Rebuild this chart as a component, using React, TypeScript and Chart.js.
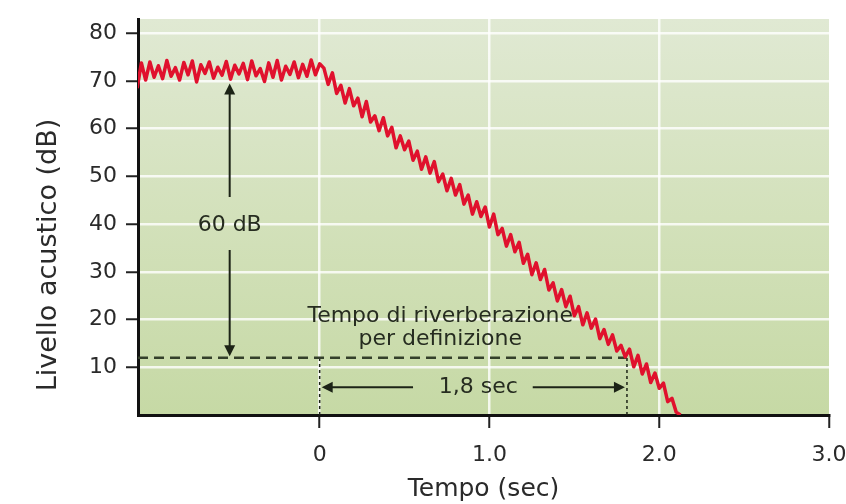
import React, { useEffect, useRef } from "react";
import { Chart, registerables } from "chart.js";

Chart.register(...registerables);

// ---- data ----
const times = [
  -1.075, -1.05, -1.025, -1.0, -0.975, -0.95, -0.925, -0.9, -0.875, -0.85,
  -0.825, -0.8, -0.775, -0.75, -0.725, -0.7, -0.675, -0.65, -0.625, -0.6,
  -0.575, -0.55, -0.525, -0.5, -0.475, -0.45, -0.425, -0.4, -0.375, -0.35,
  -0.325, -0.3, -0.275, -0.25, -0.225, -0.2, -0.175, -0.15, -0.125, -0.1,
  -0.075, -0.05, -0.025, 0.0,
  0.025, 0.05, 0.075, 0.1, 0.125, 0.15, 0.175, 0.2, 0.225, 0.25,
  0.275, 0.3, 0.325, 0.35, 0.375, 0.4, 0.425, 0.45, 0.475, 0.5,
  0.525, 0.55, 0.575, 0.6, 0.625, 0.65, 0.675, 0.7, 0.725, 0.75,
  0.775, 0.8, 0.825, 0.85, 0.875, 0.9, 0.925, 0.95, 0.975, 1.0,
  1.025, 1.05, 1.075, 1.1, 1.125, 1.15, 1.175, 1.2, 1.225, 1.25,
  1.275, 1.3, 1.325, 1.35, 1.375, 1.4, 1.425, 1.45, 1.475, 1.5,
  1.525, 1.55, 1.575, 1.6, 1.625, 1.65, 1.675, 1.7, 1.725, 1.75,
  1.775, 1.8, 1.825, 1.85, 1.875, 1.9, 1.925, 1.95, 1.975, 2.0,
  2.025, 2.05, 2.075, 2.1, 2.125,
];

const levels = [
  68.5, 73.8, 70.2, 74.0, 70.8, 73.2, 70.5, 74.3, 71.0, 72.8,
  70.2, 73.9, 71.3, 74.2, 69.8, 73.4, 71.6, 74.0, 70.6, 72.9,
  71.2, 74.1, 70.4, 73.3, 71.5, 73.7, 70.3, 74.2, 71.1, 72.6,
  69.9, 73.8, 70.8, 74.3, 70.2, 73.1, 71.4, 74.0, 70.7, 73.5,
  71.0, 74.4, 71.3, 73.6,
  72.7, 69.3, 71.7, 67.4, 69.1, 65.4, 68.4, 64.8, 66.4, 62.5,
  65.7, 61.4, 62.7, 59.6, 62.3, 58.5, 60.3, 56.0, 58.5, 55.6,
  57.4, 53.4, 55.3, 51.5, 54.1, 50.7, 53.1, 48.9, 50.5, 47.0,
  49.6, 46.1, 48.3, 44.2, 46.1, 42.1, 44.7, 41.6, 43.6, 39.4,
  42.1, 37.8, 39.1, 35.4, 37.8, 34.2, 36.2, 31.8, 33.7, 29.4,
  31.9, 28.4, 30.5, 26.2, 27.7, 23.9, 26.3, 22.7, 24.9, 20.8,
  22.7, 18.9, 21.4, 18.2, 20.1, 16.0, 17.9, 14.8, 16.8, 13.4,
  14.6, 12.2, 13.8, 10.1, 12.5, 8.6, 10.7, 6.8, 8.8, 5.6,
  6.7, 2.8, 3.5, 0.6, 0.0,
];

const yTicks = [10, 20, 30, 40, 50, 60, 70, 80];
const xTicks = [0, 1, 2, 3];
const xTickLabels = ["0", "1.0", "2.0", "3.0"];

const X_MIN = -1.07;
const X_MAX = 3.0;
const Y_MIN = 0;
const Y_MAX = 83;

const yTitle = "Livello acustico (dB)";
const xTitle = "Tempo (sec)";

// annotations (data units)
const thresholdLevel = 12;
const rtStartTime = 0;
const rtEndTime = 1.81;
const dropArrowTime = -0.53;
const dropTopLevel = 69.5;
const dropGapTop = 45.7;
const dropGapBottom = 34.6;
const dropBottomLevel = 12.3;
const dropLabel = "60 dB";
const dropLabelLevel = 39.8;
const rtLabelLines = ["Tempo di riverberazione", "per definizione"];
const rtLabelTime = 0.71;
const rtLabelLevels = [20.6, 15.8];
const spanLevel = 5.8;
const spanLabel = "1,8 sec";
const spanLabelTime = 0.935;
const spanLeftShaftEnd = 0.55;
const spanRightShaftStart = 1.255;

const FONT = "'DejaVu Sans', 'Liberation Sans', Arial, sans-serif";
const INK = "#1c2316";
const LABEL = "#2a2a2a";

export default function App() {
  const ref = useRef<HTMLCanvasElement | null>(null);

  useEffect(() => {
    const canvas = ref.current;
    if (!canvas) return;

    const bgPlugin = {
      id: "bgPlugin",
      beforeDraw(chart: any) {
        const { ctx, chartArea } = chart;
        ctx.save();
        ctx.fillStyle = "#ffffff";
        ctx.fillRect(0, 0, chart.width, chart.height);
        const g = ctx.createLinearGradient(0, chartArea.top, 0, chartArea.bottom);
        g.addColorStop(0, "#e0e9d3");
        g.addColorStop(0.5, "#d3e1bb");
        g.addColorStop(1, "#c6d9a5");
        ctx.fillStyle = g;
        ctx.fillRect(chartArea.left, chartArea.top, chartArea.right - chartArea.left, chartArea.bottom - chartArea.top);
        // y-axis title
        ctx.translate(49, 255);
        ctx.rotate(-Math.PI / 2);
        ctx.fillStyle = LABEL;
        ctx.font = `27px ${FONT}`;
        ctx.textAlign = "center";
        ctx.textBaseline = "middle";
        ctx.fillText(yTitle, 0, 0);
        ctx.restore();
      },
    };

    const annotPlugin = {
      id: "annotPlugin",
      beforeDatasetsDraw(chart: any) {
        const { ctx } = chart;
        const xs = chart.scales.x;
        const ys = chart.scales.y;
        ctx.save();
        ctx.fillStyle = "#262c20";
        ctx.font = `22px ${FONT}`;
        ctx.textAlign = "center";
        ctx.textBaseline = "middle";
        ctx.fillText(dropLabel, xs.getPixelForValue(dropArrowTime), ys.getPixelForValue(dropLabelLevel));
        rtLabelLines.forEach((line, i) => {
          ctx.fillText(line, xs.getPixelForValue(rtLabelTime), ys.getPixelForValue(rtLabelLevels[i]));
        });
        ctx.fillText(spanLabel, xs.getPixelForValue(spanLabelTime), ys.getPixelForValue(spanLevel));
        ctx.restore();
      },
      afterDatasetsDraw(chart: any) {
        const { ctx } = chart;
        const xs = chart.scales.x;
        const ys = chart.scales.y;
        const head = (x: number, y: number, dx: number, dy: number) => {
          const L = 11;
          const W = 5.5;
          const px = -dy;
          const py = dx;
          ctx.beginPath();
          ctx.moveTo(x, y);
          ctx.lineTo(x - dx * L + px * W, y - dy * L + py * W);
          ctx.lineTo(x - dx * L - px * W, y - dy * L - py * W);
          ctx.closePath();
          ctx.fill();
        };
        ctx.save();
        ctx.fillStyle = INK;
        const ax = xs.getPixelForValue(dropArrowTime);
        head(ax, ys.getPixelForValue(dropTopLevel), 0, -1);
        head(ax, ys.getPixelForValue(dropBottomLevel), 0, 1);
        const sy = ys.getPixelForValue(spanLevel);
        head(xs.getPixelForValue(rtStartTime) + 2, sy, -1, 0);
        head(xs.getPixelForValue(rtEndTime) - 2, sy, 1, 0);
        ctx.restore();
      },
    };

    const seg = (pts: { x: number; y: number }[], opts: any) => ({
      type: "line",
      data: pts,
      pointRadius: 0,
      tension: 0,
      fill: false,
      order: 1,
      ...opts,
    });

    const chart = new Chart(canvas, {
      type: "line",
      data: {
        datasets: [
          {
            label: "Livello",
            data: times.map((t, i) => ({ x: t, y: levels[i] })),
            borderColor: "#e0112d",
            borderWidth: 3.5,
            borderJoinStyle: "round",
            pointRadius: 0,
            tension: 0,
            fill: false,
            order: 0,
          } as any,
          seg(
            [{ x: X_MIN, y: thresholdLevel }, { x: rtEndTime, y: thresholdLevel }],
            { borderColor: "#34402b", borderWidth: 2.5, borderDash: [10, 6] }
          ),
          seg(
            [{ x: rtStartTime, y: Y_MIN }, { x: rtStartTime, y: thresholdLevel }],
            { borderColor: INK, borderWidth: 1.5, borderDash: [3, 3] }
          ),
          seg(
            [{ x: rtEndTime, y: Y_MIN }, { x: rtEndTime, y: thresholdLevel }],
            { borderColor: INK, borderWidth: 1.5, borderDash: [3, 3] }
          ),
          seg(
            [{ x: dropArrowTime, y: dropTopLevel - 1.5 }, { x: dropArrowTime, y: dropGapTop }],
            { borderColor: INK, borderWidth: 2 }
          ),
          seg(
            [{ x: dropArrowTime, y: dropGapBottom }, { x: dropArrowTime, y: dropBottomLevel + 1.5 }],
            { borderColor: INK, borderWidth: 2 }
          ),
          seg(
            [{ x: rtStartTime + 0.05, y: spanLevel }, { x: spanLeftShaftEnd, y: spanLevel }],
            { borderColor: INK, borderWidth: 2 }
          ),
          seg(
            [{ x: spanRightShaftStart, y: spanLevel }, { x: rtEndTime - 0.05, y: spanLevel }],
            { borderColor: INK, borderWidth: 2 }
          ),
        ] as any,
      },
      options: {
        animation: false,
        responsive: false,
        maintainAspectRatio: false,
        layout: { padding: { left: 0, right: 17, top: 19, bottom: 0 } },
        plugins: {
          legend: { display: false },
          tooltip: { enabled: false },
        },
        scales: {
          x: {
            type: "linear",
            min: X_MIN,
            max: X_MAX,
            afterBuildTicks: (scale: any) => {
              scale.ticks = xTicks.map((v) => ({ value: v }));
            },
            afterFit: (scale: any) => {
              scale.height = 504 - 415;
              scale.paddingLeft = 0;
              scale.paddingRight = 0;
            },
            ticks: {
              autoSkip: false,
              maxRotation: 0,
              padding: 14,
              color: LABEL,
              font: { family: FONT, size: 22 },
              callback: (value: any) => {
                const i = xTicks.indexOf(Number(value));
                return i >= 0 ? xTickLabels[i] : "";
              },
            },
            grid: {
              color: (c: any) =>
                c.tick && c.tick.value === X_MAX ? "rgba(0,0,0,0)" : "rgba(255,255,255,0.8)",
              lineWidth: 2.5,
              tickColor: "#222222",
              tickLength: 13,
              tickWidth: 2,
            },
            border: { color: "#111111", width: 3 },
            title: {
              display: true,
              text: xTitle,
              color: LABEL,
              font: { family: FONT, size: 25 },
              padding: { top: 0, bottom: 0 },
            },
          },
          y: {
            type: "linear",
            min: Y_MIN,
            max: Y_MAX,
            afterBuildTicks: (scale: any) => {
              scale.ticks = yTicks.map((v) => ({ value: v }));
            },
            afterFit: (scale: any) => {
              scale.width = 138;
              scale.paddingTop = 0;
              scale.paddingBottom = 0;
            },
            ticks: {
              autoSkip: false,
              padding: 9,
              color: LABEL,
              font: { family: FONT, size: 22 },
            },
            grid: {
              color: "rgba(255,255,255,0.8)",
              lineWidth: 2.5,
              tickColor: "#222222",
              tickLength: 12,
              tickWidth: 2,
            },
            border: { color: "#111111", width: 3 },
          },
        },
      } as any,
      plugins: [bgPlugin, annotPlugin],
    });

    return () => chart.destroy();
  }, []);

  return (
    <div style={{ position: "fixed", left: 0, top: 0, width: 846, height: 504, background: "#ffffff" }}>
      <canvas ref={ref} width={846} height={504} style={{ display: "block", width: 846, height: 504 }} />
    </div>
  );
}
